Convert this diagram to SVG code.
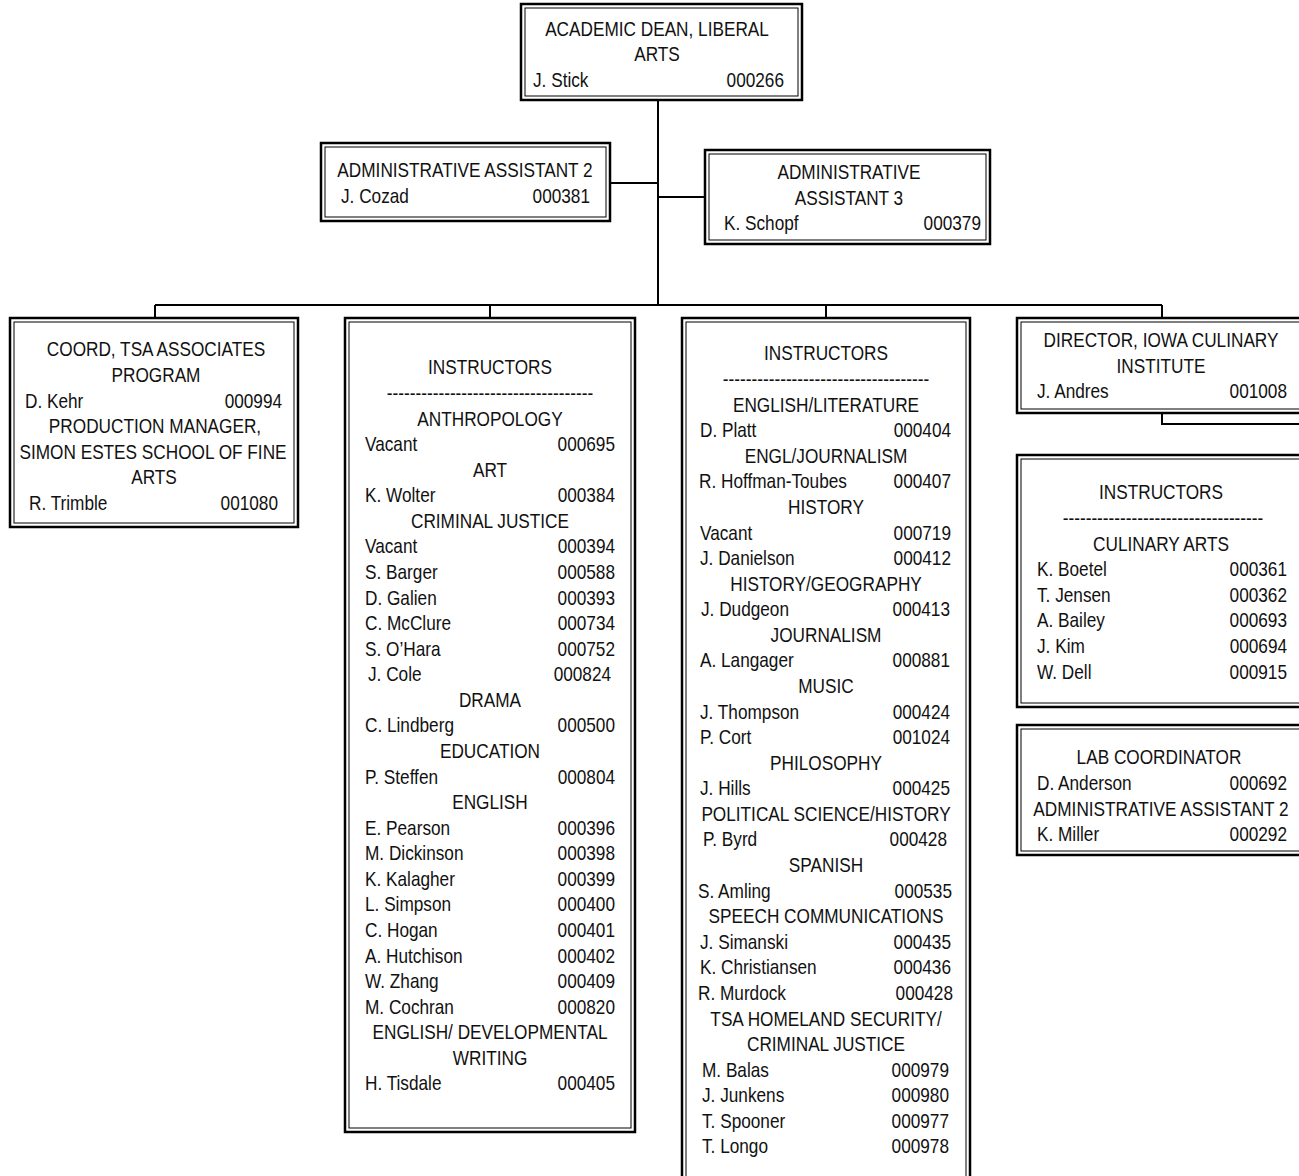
<svg xmlns="http://www.w3.org/2000/svg" width="1299" height="1176" viewBox="0 0 1299 1176">
<style>
.o{fill:#fff;stroke:#000;stroke-width:2.5}
.i{fill:none;stroke:#000;stroke-width:1}
.c{fill:none;stroke:#000;stroke-width:2}
text{font-family:"Liberation Sans",Arial,sans-serif;font-size:21px;fill:#111;transform-box:fill-box;transform-origin:left center;transform:scaleX(0.82)}
.m{text-anchor:middle;transform-origin:center center}
.e{text-anchor:end;transform-origin:right center}
</style>
<rect width="1299" height="1176" fill="#fff"/>
<g id="connectors">
<path class="c" d="M658,100V305M611,183H658M658,197H705M155,305H1162M155,305V318M490,305V318M826,305V318M1162,305V318M1162,413V424H1300"/>
</g>
<g id="dean">
<rect class="o" x="521" y="4" width="281" height="96"/><rect class="i" x="525" y="8" width="273" height="88"/>
<text class="m" x="657" y="36">ACADEMIC DEAN, LIBERAL</text>
<text class="m" x="657" y="61.5">ARTS</text>
<text x="533" y="87">J. Stick</text><text class="e" x="784" y="87">000266</text>
</g>
<g id="admin2">
<rect class="o" x="321" y="143" width="289" height="78"/><rect class="i" x="325" y="147" width="281" height="70"/>
<text class="m" x="465" y="177.5">ADMINISTRATIVE ASSISTANT 2</text>
<text x="341" y="203">J. Cozad</text><text class="e" x="590" y="203">000381</text>
</g>
<g id="admin3">
<rect class="o" x="705" y="150" width="285" height="94"/><rect class="i" x="709" y="154" width="277" height="86"/>
<text class="m" x="849" y="179.5">ADMINISTRATIVE</text>
<text class="m" x="849" y="205">ASSISTANT 3</text>
<text x="724" y="230.5">K. Schopf</text><text class="e" x="981" y="230.5">000379</text>
</g>
<g id="coord">
<rect class="o" x="10" y="318" width="288" height="209"/><rect class="i" x="14" y="322" width="280" height="201"/>
<text class="m" x="156" y="356.5">COORD, TSA ASSOCIATES</text>
<text class="m" x="156" y="382.1">PROGRAM</text>
<text x="25" y="407.6">D. Kehr</text><text class="e" x="282" y="407.6">000994</text>
<text class="m" x="155" y="433.2">PRODUCTION MANAGER,</text>
<text class="m" x="153" y="458.8">SIMON ESTES SCHOOL OF FINE</text>
<text class="m" x="154" y="484.4">ARTS</text>
<text x="29" y="509.9">R. Trimble</text><text class="e" x="278" y="509.9">001080</text>
</g>
<g id="instructors1">
<rect class="o" x="345" y="318" width="290" height="814"/><rect class="i" x="349" y="322" width="282" height="806"/>
<text class="m" x="490" y="374.5">INSTRUCTORS</text>
<text class="m" x="490" y="400.1">------------------------------------</text>
<text class="m" x="490" y="425.6">ANTHROPOLOGY</text>
<text x="365" y="451.2">Vacant</text><text class="e" x="615" y="451.2">000695</text>
<text class="m" x="490" y="476.8">ART</text>
<text x="365" y="502.4">K. Wolter</text><text class="e" x="615" y="502.4">000384</text>
<text class="m" x="490" y="527.9">CRIMINAL JUSTICE</text>
<text x="365" y="553.5">Vacant</text><text class="e" x="615" y="553.5">000394</text>
<text x="365" y="579.1">S. Barger</text><text class="e" x="615" y="579.1">000588</text>
<text x="365" y="604.6">D. Galien</text><text class="e" x="615" y="604.6">000393</text>
<text x="365" y="630.2">C. McClure</text><text class="e" x="615" y="630.2">000734</text>
<text x="365" y="655.8">S. O’Hara</text><text class="e" x="615" y="655.8">000752</text>
<text x="368" y="681.3">J. Cole</text><text class="e" x="611" y="681.3">000824</text>
<text class="m" x="490" y="706.9">DRAMA</text>
<text x="365" y="732.5">C. Lindberg</text><text class="e" x="615" y="732.5">000500</text>
<text class="m" x="490" y="758.1">EDUCATION</text>
<text x="365" y="783.6">P. Steffen</text><text class="e" x="615" y="783.6">000804</text>
<text class="m" x="490" y="809.2">ENGLISH</text>
<text x="365" y="834.8">E. Pearson</text><text class="e" x="615" y="834.8">000396</text>
<text x="365" y="860.3">M. Dickinson</text><text class="e" x="615" y="860.3">000398</text>
<text x="365" y="885.9">K. Kalagher</text><text class="e" x="615" y="885.9">000399</text>
<text x="365" y="911.5">L. Simpson</text><text class="e" x="615" y="911.5">000400</text>
<text x="365" y="937">C. Hogan</text><text class="e" x="615" y="937">000401</text>
<text x="365" y="962.6">A. Hutchison</text><text class="e" x="615" y="962.6">000402</text>
<text x="365" y="988.2">W. Zhang</text><text class="e" x="615" y="988.2">000409</text>
<text x="365" y="1013.8">M. Cochran</text><text class="e" x="615" y="1013.8">000820</text>
<text class="m" x="490" y="1039.3">ENGLISH/ DEVELOPMENTAL</text>
<text class="m" x="490" y="1064.9">WRITING</text>
<text x="365" y="1090.5">H. Tisdale</text><text class="e" x="615" y="1090.5">000405</text>
</g>
<g id="instructors2">
<rect class="o" x="682" y="318" width="288" height="880"/><rect class="i" x="686" y="322" width="280" height="872"/>
<text class="m" x="826" y="360.5">INSTRUCTORS</text>
<text class="m" x="826" y="386.1">------------------------------------</text>
<text class="m" x="826" y="411.7">ENGLISH/LITERATURE</text>
<text x="700" y="437.2">D. Platt</text><text class="e" x="951" y="437.2">000404</text>
<text class="m" x="826" y="462.8">ENGL/JOURNALISM</text>
<text x="699" y="488.4">R. Hoffman-Toubes</text><text class="e" x="951" y="488.4">000407</text>
<text class="m" x="826" y="514">HISTORY</text>
<text x="700" y="539.6">Vacant</text><text class="e" x="951" y="539.6">000719</text>
<text x="700" y="565.1">J. Danielson</text><text class="e" x="951" y="565.1">000412</text>
<text class="m" x="826" y="590.7">HISTORY/GEOGRAPHY</text>
<text x="701" y="616.3">J. Dudgeon</text><text class="e" x="950" y="616.3">000413</text>
<text class="m" x="826" y="641.9">JOURNALISM</text>
<text x="700" y="667.5">A. Langager</text><text class="e" x="950" y="667.5">000881</text>
<text class="m" x="826" y="693">MUSIC</text>
<text x="700" y="718.6">J. Thompson</text><text class="e" x="950" y="718.6">000424</text>
<text x="700" y="744.2">P. Cort</text><text class="e" x="950" y="744.2">001024</text>
<text class="m" x="826" y="769.8">PHILOSOPHY</text>
<text x="700" y="795.4">J. Hills</text><text class="e" x="950" y="795.4">000425</text>
<text class="m" x="826" y="820.9">POLITICAL SCIENCE/HISTORY</text>
<text x="703" y="846.5">P. Byrd</text><text class="e" x="947" y="846.5">000428</text>
<text class="m" x="826" y="872.1">SPANISH</text>
<text x="698" y="897.7">S. Amling</text><text class="e" x="952" y="897.7">000535</text>
<text class="m" x="826" y="923.3">SPEECH COMMUNICATIONS</text>
<text x="700" y="948.8">J. Simanski</text><text class="e" x="951" y="948.8">000435</text>
<text x="700" y="974.4">K. Christiansen</text><text class="e" x="951" y="974.4">000436</text>
<text x="698" y="1000">R. Murdock</text><text class="e" x="953" y="1000">000428</text>
<text class="m" x="826" y="1025.6">TSA HOMELAND SECURITY/</text>
<text class="m" x="826" y="1051.2">CRIMINAL JUSTICE</text>
<text x="702" y="1076.7">M. Balas</text><text class="e" x="949" y="1076.7">000979</text>
<text x="702" y="1102.3">J. Junkens</text><text class="e" x="949" y="1102.3">000980</text>
<text x="702" y="1127.9">T. Spooner</text><text class="e" x="949" y="1127.9">000977</text>
<text x="702" y="1153.5">T. Longo</text><text class="e" x="949" y="1153.5">000978</text>
</g>
<g id="director">
<rect class="o" x="1017" y="318" width="290" height="95"/><rect class="i" x="1021" y="322" width="282" height="87"/>
<text class="m" x="1161" y="347.5">DIRECTOR, IOWA CULINARY</text>
<text class="m" x="1161" y="373">INSTITUTE</text>
<text x="1037" y="398.5">J. Andres</text><text class="e" x="1287" y="398.5">001008</text>
</g>
<g id="culinary">
<rect class="o" x="1017" y="455" width="290" height="252"/><rect class="i" x="1021" y="459" width="282" height="244"/>
<text class="m" x="1161" y="499.5">INSTRUCTORS</text>
<text class="m" x="1163" y="525.1">-----------------------------------</text>
<text class="m" x="1161" y="550.7">CULINARY ARTS</text>
<text x="1037" y="576.3">K. Boetel</text><text class="e" x="1287" y="576.3">000361</text>
<text x="1037" y="601.9">T. Jensen</text><text class="e" x="1287" y="601.9">000362</text>
<text x="1037" y="627.5">A. Bailey</text><text class="e" x="1287" y="627.5">000693</text>
<text x="1037" y="653.1">J. Kim</text><text class="e" x="1287" y="653.1">000694</text>
<text x="1037" y="678.7">W. Dell</text><text class="e" x="1287" y="678.7">000915</text>
</g>
<g id="lab">
<rect class="o" x="1017" y="725" width="290" height="130"/><rect class="i" x="1021" y="729" width="282" height="122"/>
<text class="m" x="1159" y="764.5">LAB COORDINATOR</text>
<text x="1037" y="790.1">D. Anderson</text><text class="e" x="1287" y="790.1">000692</text>
<text class="m" x="1161" y="815.7">ADMINISTRATIVE ASSISTANT 2</text>
<text x="1037" y="841.3">K. Miller</text><text class="e" x="1287" y="841.3">000292</text>
</g>
</svg>
